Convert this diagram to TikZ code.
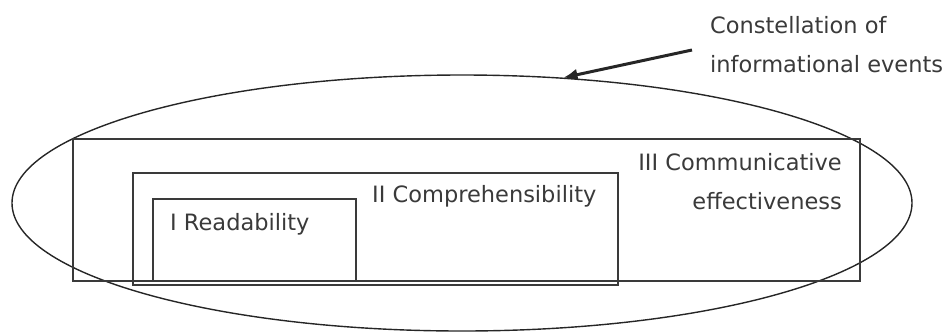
\documentclass[tikz,border=0pt]{standalone}
\usepackage{fontspec}
\setmainfont{DejaVu Sans}
\usetikzlibrary{positioning,shapes.geometric,arrows.meta}
\definecolor{ink}{HTML}{3A3A3A}

\begin{document}
\begin{tikzpicture}[x=1pt, y=-1pt,
  frame/.style={draw=ink, line width=1.5pt, inner sep=0pt, anchor=north west},
  caption/.style={text=ink, inner sep=0pt, font=\fontsize{22.5}{39}\selectfont}]
\useasboundingbox (0,0) rectangle (944,333);

% outer constellation
\node[ellipse, draw=black!85, line width=1.4pt, inner sep=0pt,
  minimum width=900pt, minimum height=256pt] (events) at (462,203) {};

% nested boxes
\node[frame, minimum width=787pt, minimum height=142pt] (effect) at (72,138) {};
\node[frame, minimum width=485pt, minimum height=112pt] (compre) at (132,172) {};
\node[frame, minimum width=203pt, minimum height=82pt] (read) at (152,198) {};

% labels
\node[caption, anchor=base west] (readlbl) at (170,230) {I Readability};
\node[caption, anchor=base west] (comprelbl) at (372,202) {II Comprehensibility};
\node[caption, anchor=north east, align=right] (effectlbl) at (842,153.5)
  {III Communicative\\effectiveness};
\node[caption, anchor=north west, align=left] (eventslbl) at (710,16)
  {Constellation of\\informational events};

\coordinate (tail) at (692,50);
\draw[-{Latex[length=14pt,width=12pt]}, line width=3pt, black!85] (tail) -- (events.51);
\end{tikzpicture}
\end{document}
